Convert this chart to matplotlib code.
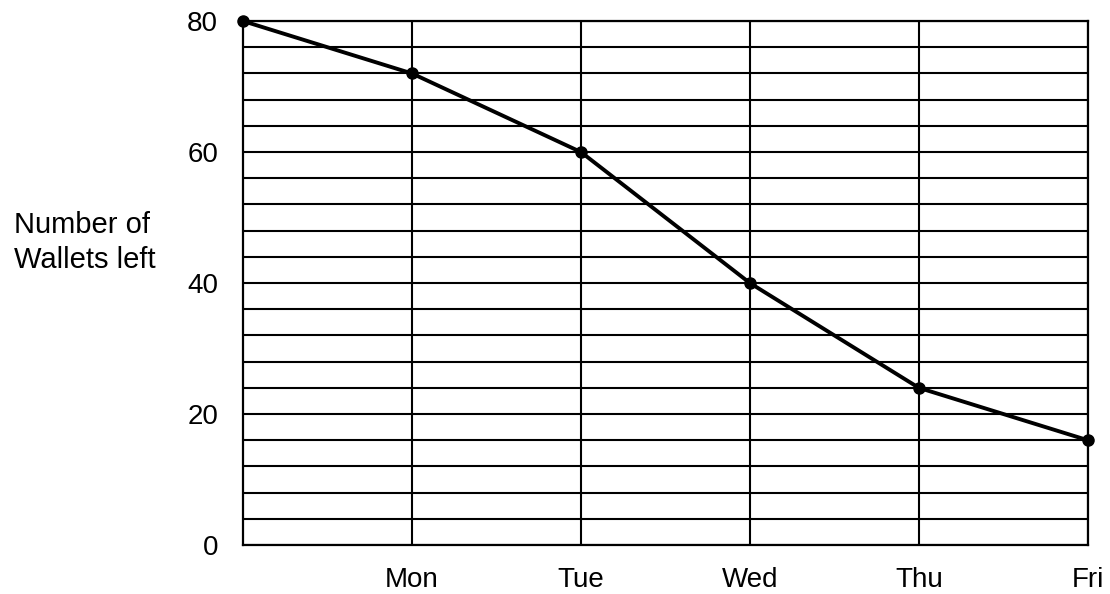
import matplotlib
matplotlib.use("Agg")
import matplotlib.pyplot as plt

days = ["Mon", "Tue", "Wed", "Thu", "Fri"]
day_pos = [1, 2, 3, 4, 5]
point_x = [0, 1, 2, 3, 4, 5]
wallets_left = [80, 72, 60, 40, 24, 16]
y_ticks = [0, 20, 40, 60, 80]
y_grid = list(range(0, 81, 4))

plt.rcParams["font.family"] = ["Liberation Sans", "DejaVu Sans"]

fig = plt.figure(figsize=(11.1, 5.94), dpi=100)
ax = fig.add_axes([0.219, 0.0825, 0.761, 0.882])

for y in y_grid:
    ax.axhline(y, color="black", lw=1.5, zorder=1)
for x in day_pos:
    ax.axvline(x, color="black", lw=1.5, zorder=1)

ax.plot(point_x, wallets_left, color="black", lw=2.8, marker="o",
        markersize=8, zorder=3, clip_on=False)

ax.set_xlim(0, 5)
ax.set_ylim(0, 80)
ax.set_xticks(day_pos)
ax.set_xticklabels(days)
ax.set_yticks(y_ticks)
ax.tick_params(length=0, labelsize=20)
ax.tick_params(axis="x", pad=16)
ax.tick_params(axis="y", pad=18)
for s in ax.spines.values():
    s.set_linewidth(1.6)
    s.set_color("black")

fig.text(14 / 1110, 1 - 225 / 594, "Number of", fontsize=21, va="center", ha="left")
fig.text(14 / 1110, 1 - 260 / 594, "Wallets left", fontsize=21, va="center", ha="left")

fig.savefig("out.png", dpi=100)
